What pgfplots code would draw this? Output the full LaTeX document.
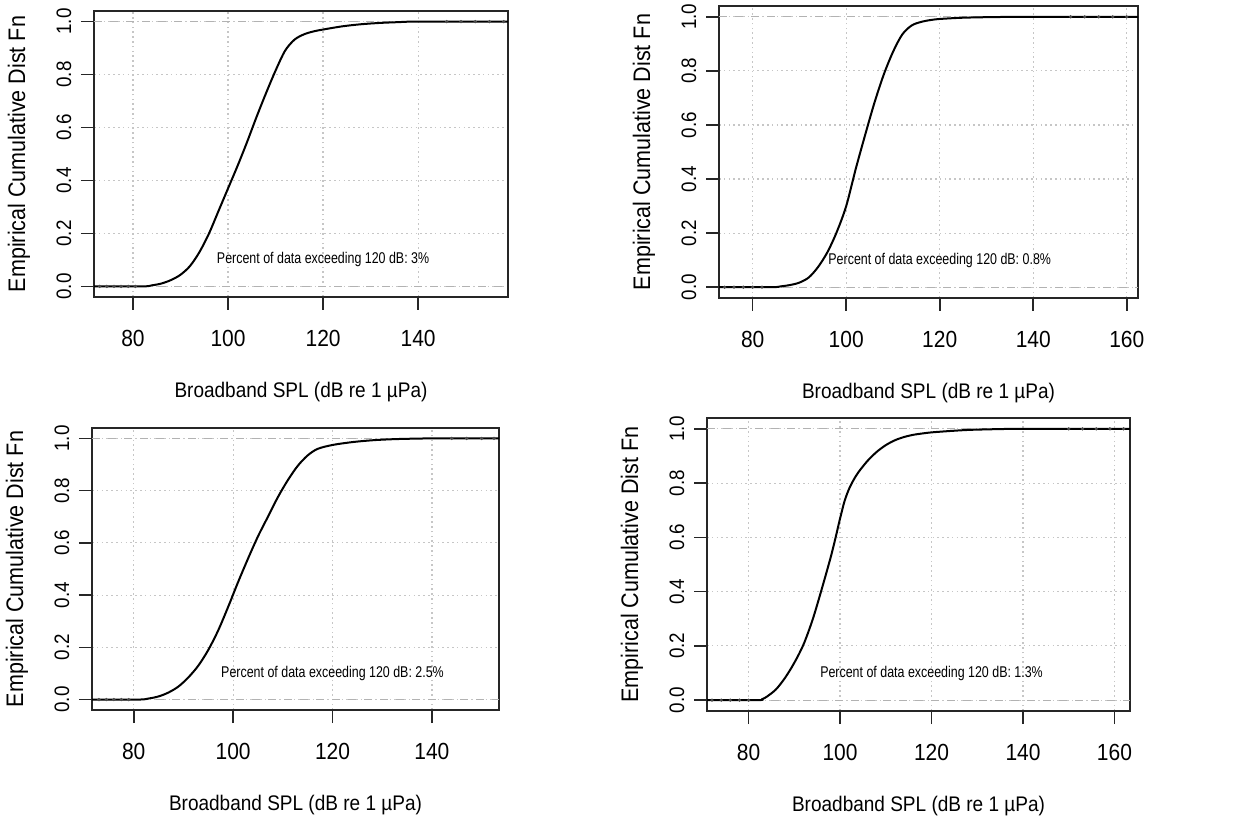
\documentclass[border=0pt]{standalone}
\usepackage{pgfplots}
\pgfplotsset{compat=1.18}
\usepackage{fontspec}
\setmainfont{Liberation Sans}[FakeStretch=0.9]
\newfontfamily\nfont{Liberation Sans}[FakeStretch=0.8]

\pgfplotstableread{
x y
71.8 0
82 0
84 0.004
86 0.011
88 0.024
90 0.044
92 0.077
94 0.13
96 0.2
98 0.285
100 0.37
102 0.455
104 0.545
106 0.64
108 0.73
110 0.815
112 0.89
114 0.932
116 0.952
118 0.963
120 0.97
124 0.982
128 0.99
132 0.995
136 0.998
140 1
158.9 1
}\dataA
\pgfplotstableread{
x y
72.8 0
84 0
86 0.003
88 0.008
90 0.017
92 0.036
94 0.075
96 0.13
98 0.205
100 0.3
102 0.435
104 0.56
106 0.68
108 0.785
110 0.87
112 0.935
114 0.968
116 0.981
118 0.988
120 0.992
124 0.996
128 0.998
134 0.9995
140 1
162.4 1
}\dataB
\pgfplotstableread{
x y
71.6 0
81 0
83 0.004
85 0.012
87 0.027
89 0.05
91 0.085
93 0.13
95 0.19
97 0.265
99 0.355
101 0.45
103 0.54
105 0.625
107 0.7
109 0.775
111 0.84
113 0.895
115 0.935
117 0.96
120 0.975
124 0.986
128 0.993
132 0.997
136 0.999
140 1
153.5 1
}\dataC
\pgfplotstableread{
x y
70.9 0
82 0
83 0.004
84 0.013
86 0.04
88 0.083
90 0.138
92 0.205
94 0.297
96 0.41
98 0.53
99 0.598
100 0.67
101 0.735
102 0.78
103 0.813
104 0.84
106 0.882
108 0.915
110 0.94
112 0.958
114 0.97
116 0.978
118 0.983
120 0.987
124 0.992
128 0.996
132 0.998
136 0.9995
140 1
163.4 1
}\dataD

\tikzset{note/.style={font=\nfont\fontsize{7.8}{9}\selectfont}}
\pgfplotsset{
  ecdf/.style={
    scale only axis,
    anchor=south west,
    ymin=-0.04, ymax=1.04,
    ytick={0,0.2,0.4,0.6,0.8,1},
    yticklabels={0.0,0.2,0.4,0.6,0.8,1.0},
    axis line style={line width=0.95bp, black!85},
    tick style={line width=0.8bp, black!85},
    tick align=outside,
    major tick length=6.5bp,
    xtick pos=bottom, ytick pos=left,
    grid=major,
    major grid style={dash pattern=on 0.8bp off 1.6bp, gray!45, line width=0.6bp},
    xticklabel style={font=\fontsize{11.7}{12}\selectfont, anchor=center, inner sep=0pt},
    xticklabel shift=14bp,
    yticklabel style={font=\fontsize{10.5}{12}\selectfont, rotate=90, anchor=center, inner sep=0pt},
    yticklabel shift=8.5bp,
    every axis x label/.style={at={([yshift=-47.5bp]axis description cs:0.5,0)}, anchor=center, font=\fontsize{10.6}{13}\selectfont},
    every axis y label/.style={at={([xshift=-37.5bp]axis description cs:0,0.5)}, anchor=center, rotate=90, font=\fontsize{12}{13}\selectfont},
    xlabel={Broadband SPL (dB re 1 µPa)},
    ylabel={Empirical Cumulative Dist Fn},
  },
  refline/.style={gray!60, line width=0.6bp, dash pattern=on 4bp off 4bp, forget plot},
  curve/.style={black, line width=1bp, smooth, tension=0.5},
  tail/.style={only marks, mark=*, mark size=0.6bp, black!70},
}

\begin{document}
\begin{tikzpicture}
\useasboundingbox (0,0) rectangle (630bp,412bp);

% top left
\begin{axis}[ecdf, at={(47bp,263.5bp)}, width=207bp, height=143bp,
  xmin=71.8, xmax=158.9, xtick={80,100,120,140}, xticklabels={80,100,120,140}]
\addplot[refline] coordinates {(71.8,0) (158.9,0)};
\addplot[refline] coordinates {(71.8,1) (158.9,1)};
\addplot[curve] table {\dataA};
\addplot[tail] coordinates {(73,0) (74.5,0) (76,0) (77.5,0) (79,0) (80.5,0) (146,1) (149,1) (152,1) (155,1) (158,1)};
\node[note] at (axis cs:120,0.1) {Percent of data exceeding 120 dB: 3\%};
\end{axis}

% top right
\begin{axis}[ecdf, at={(359.5bp,263bp)}, width=209.5bp, height=146bp,
  xmin=72.8, xmax=162.4, xtick={80,100,120,140,160}, xticklabels={80,100,120,140,160}]
\addplot[refline] coordinates {(72.8,0) (162.4,0)};
\addplot[refline] coordinates {(72.8,1) (162.4,1)};
\addplot[curve] table {\dataB};
\addplot[tail] coordinates {(74,0) (76,0) (78,0) (80,0) (82,0) (148,1) (151,1) (154,1) (157,1) (160,1)};
\node[note] at (axis cs:120,0.1) {Percent of data exceeding 120 dB: 0.8\%};
\end{axis}

% bottom left
\begin{axis}[ecdf, at={(46bp,57bp)}, width=203.5bp, height=141bp,
  xmin=71.6, xmax=153.5, xtick={80,100,120,140}, xticklabels={80,100,120,140}]
\addplot[refline] coordinates {(71.6,0) (153.5,0)};
\addplot[refline] coordinates {(71.6,1) (153.5,1)};
\addplot[curve] table {\dataC};
\addplot[tail] coordinates {(73,0) (74.5,0) (76,0) (77.5,0) (79,0) (144,1) (147,1) (150,1) (152.5,1)};
\node[note] at (axis cs:120,0.1) {Percent of data exceeding 120 dB: 2.5\%};
\end{axis}

% bottom right
\begin{axis}[ecdf, at={(353.5bp,56.5bp)}, width=211.5bp, height=146.5bp,
  xmin=70.9, xmax=163.4, xtick={80,100,120,140,160}, xticklabels={80,100,120,140,160}]
\addplot[refline] coordinates {(70.9,0) (163.4,0)};
\addplot[refline] coordinates {(70.9,1) (163.4,1)};
\addplot[curve] table {\dataD};
\addplot[tail] coordinates {(72,0) (74,0) (76,0) (78,0) (80,0) (150,1) (153,1) (156,1) (159,1) (162,1)};
\node[note] at (axis cs:120,0.1) {Percent of data exceeding 120 dB: 1.3\%};
\end{axis}
\end{tikzpicture}
\end{document}
